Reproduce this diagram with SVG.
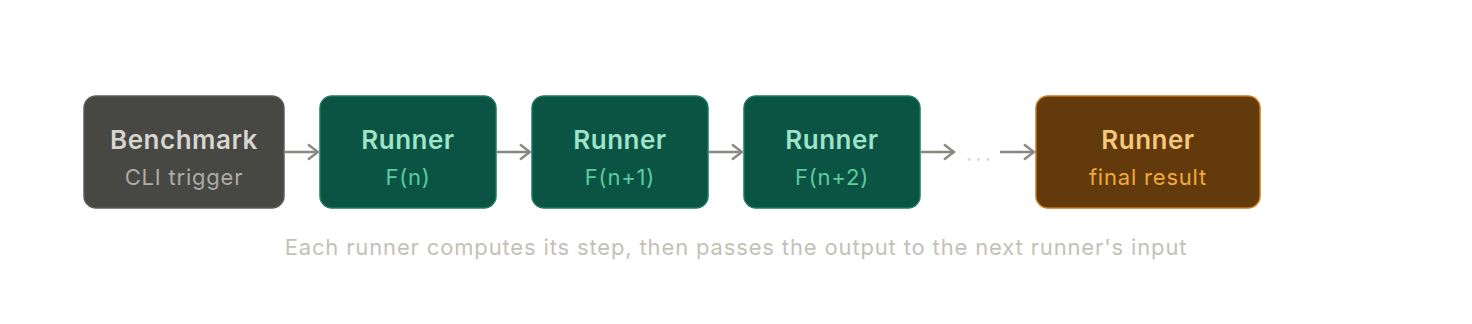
<svg xmlns="http://www.w3.org/2000/svg" width="1472" height="324" viewBox="0 0 1472 324">
<defs>
<style>
.t{font-family:Inter,"Noto Sans","Liberation Sans",sans-serif;text-anchor:middle}
.h{font-size:26px;font-weight:600;letter-spacing:0.5px}
.s{font-size:22px;font-weight:400;letter-spacing:0.8px}
.grey rect{fill:#474743;stroke:#5e5d59;stroke-width:1.5}
.green rect{fill:#0b5443;stroke:#1d7a5d;stroke-width:1.5}
.amber rect{fill:#623a0c;stroke:#c9781c;stroke-width:1.5}
.conn line{stroke:#8a8883;stroke-width:2.5;fill:none}
</style>
<marker id="ah" markerWidth="14" markerHeight="18" viewBox="0 0 14 18" refX="12" refY="9" orient="auto" markerUnits="userSpaceOnUse">
<path d="M2,1.5 L12,9 L2,16.5" fill="none" stroke="#8a8883" stroke-width="2.5"/>
</marker>
</defs>
<rect width="1472" height="324" fill="#ffffff"/>
<g id="n-benchmark" class="grey">
<rect x="84" y="96" width="200" height="112" rx="12"/>
<text class="t h" x="184" y="149" fill="#d7d5cd">Benchmark</text>
<text class="t s" x="184" y="185" fill="#adaba4">CLI trigger</text>
</g>
<g id="n-runner1" class="green">
<rect x="320" y="96" width="176" height="112" rx="12"/>
<text class="t h" x="408" y="149" fill="#9fe3c8">Runner</text>
<text class="t s" x="408" y="185" fill="#5ccba1">F(n)</text>
</g>
<g id="n-runner2" class="green">
<rect x="532" y="96" width="176" height="112" rx="12"/>
<text class="t h" x="620" y="149" fill="#9fe3c8">Runner</text>
<text class="t s" x="620" y="185" fill="#5ccba1">F(n+1)</text>
</g>
<g id="n-runner3" class="green">
<rect x="744" y="96" width="176" height="112" rx="12"/>
<text class="t h" x="832" y="149" fill="#9fe3c8">Runner</text>
<text class="t s" x="832" y="185" fill="#5ccba1">F(n+2)</text>
</g>
<g id="n-final" class="amber">
<rect x="1036" y="96" width="224" height="112" rx="12"/>
<text class="t h" x="1148" y="149" fill="#f6c87c">Runner</text>
<text class="t s" x="1148" y="185" fill="#f0a93c">final result</text>
</g>
<g id="connectors" class="conn">
<line x1="285" y1="152" x2="318" y2="152" marker-end="url(#ah)"/>
<line x1="497" y1="152" x2="530" y2="152" marker-end="url(#ah)"/>
<line x1="709" y1="152" x2="742" y2="152" marker-end="url(#ah)"/>
<line x1="921" y1="152" x2="954" y2="152" marker-end="url(#ah)"/>
<line x1="1000" y1="152" x2="1034" y2="152" marker-end="url(#ah)"/>
</g>
<text class="t" x="980" y="161" font-size="22" letter-spacing="3" fill="#dcdbd7">...</text>
<text class="t" x="736" y="255" font-size="22" letter-spacing="0.85" fill="#c3c1b9">Each runner computes its step, then passes the output to the next runner's input</text>
</svg>
